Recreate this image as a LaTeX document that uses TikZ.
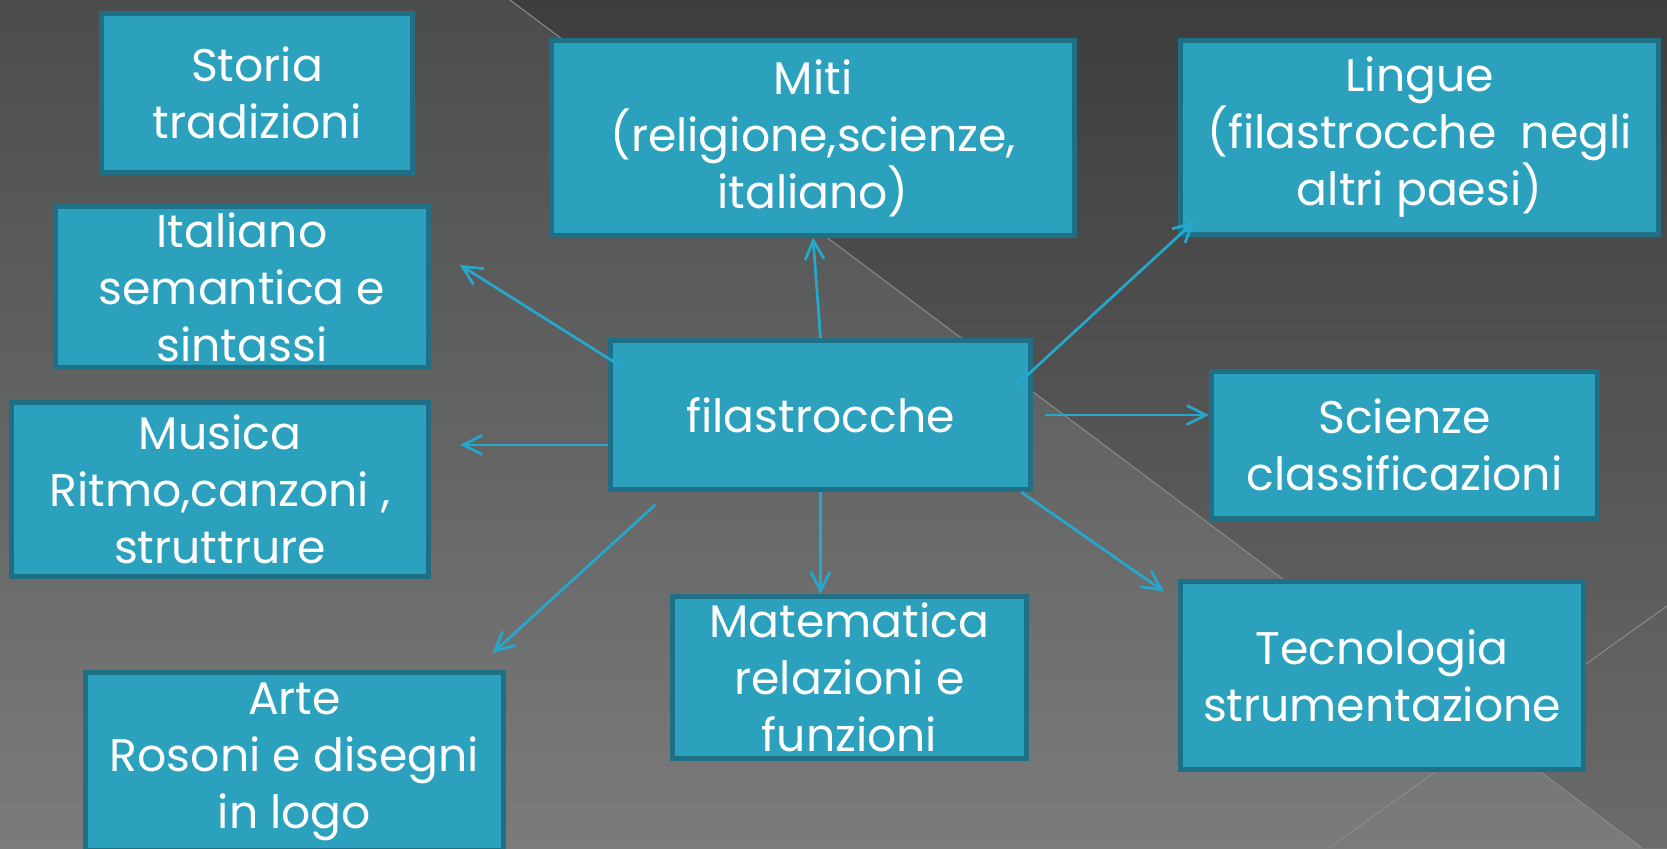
\documentclass[tikz,border=0pt]{standalone}
\usepackage{fontspec}
\setmainfont{Poppins}
\usepackage{tikz}
\usetikzlibrary{arrows.meta, positioning, calc}

\definecolor{boxfill}{RGB}{44,161,190}
\definecolor{boxline}{RGB}{31,112,134}
\definecolor{arrowblue}{RGB}{36,168,206}
\definecolor{bgtop}{RGB}{75,76,76}
\definecolor{bgbottom}{RGB}{123,123,123}
\definecolor{darktop}{RGB}{61,61,61}
\definecolor{darkbottom}{RGB}{107,107,107}
\definecolor{bgline}{RGB}{140,140,140}

\begin{document}
\begin{tikzpicture}[
    x=0.01cm, y=-0.01cm,
    % GLOBAL CFG
    font=\fontsize{13}{16.2}\selectfont,
    >={Straight Barb[length=1.9mm,width=1.9mm]},
    % Styles
    topic/.style={% For the subject boxes
        rectangle,
        draw=boxline,
        fill=boxfill,
        line width=0.5mm,
        text=white,
        align=center,
        inner sep=0pt,
        },
    ArrowA/.style={% Arrows going out of the centre box
        ->,
        draw=arrowblue,
        line width=0.27mm,
        },
    ]

    % Fix the page and paint the background
    \useasboundingbox (0,0) rectangle (1667,848);
    \clip (0,0) rectangle (1667,848);
    \shade [top color=bgtop, bottom color=bgbottom] (0,0) rectangle (1667,848);
    \shade [top color=darktop, bottom color=darkbottom]
        (510,0) -- (1667,0) -- (1667,848) -- (1642,848) -- cycle;
    \draw [bgline, line width=0.1mm] (510,0) -- (1642,848);
    \draw [bgline, line width=0.1mm] (1329,848) -- (1667,606);

    % Draw the centre box
    \node [topic, minimum width=4.20cm, minimum height=1.49cm] (fil) at (820.5,415) {filastrocche};

    % Draw the subjects, left column
    \node [topic, minimum width=3.11cm, minimum height=1.59cm] (storia) at (257,93) {Storia\\tradizioni};
    \node [topic, minimum width=3.73cm, minimum height=1.61cm] (ital) at (242,287) {Italiano\\semantica e\\sintassi};
    \node [topic, minimum width=4.17cm, minimum height=1.74cm] (musica) at (220,489.5) {Musica\\Ritmo,canzoni ,\\struttrure};
    \node [topic, minimum width=4.18cm, minimum height=1.78cm] (arte) at (294.5,761.5) {Arte\\Rosoni e disegni\\in logo};

    % Draw the subjects, middle and right
    \node [topic, minimum width=5.23cm, minimum height=1.94cm] (miti) at (813,138) {Miti\\(religione,scienze,\\italiano)};
    \node [topic, minimum width=3.54cm, minimum height=1.62cm] (mate) at (849.5,677.5) {Matematica\\relazioni e\\funzioni};
    \node [topic, minimum width=4.78cm, minimum height=1.93cm] (lingue) at (1419.5,137.5) {Lingue\\(filastrocche\ \ negli\\altri paesi)};
    \node [topic, minimum width=3.86cm, minimum height=1.47cm] (scienze) at (1404.5,445) {Scienze\\classificazioni};
    \node [topic, minimum width=4.03cm, minimum height=1.88cm] (tecno) at (1382,675.5) {Tecnologia\\strumentazione};

    % Drawing arrows
    \draw [ArrowA, shorten <=-2mm, shorten >=3.4mm] (fil.165) -- (ital.12);
    \draw [ArrowA, shorten >=2.9mm] (fil.188) -- (fil.188 -| musica.east);
    \draw [ArrowA, shorten <=1.9mm, shorten >=2.5mm] (fil.207) -- (arte.27);
    \draw [ArrowA] (fil.south) -- (fil.south |- mate.north);
    \draw [ArrowA, shorten >=1.7mm] (fil.-21) -- (tecno.160);
    \draw [ArrowA, shorten <=1.2mm] (fil.east) -- (fil.east -| scienze.west);
    \draw [ArrowA, shorten <=-2.4mm, shorten >=-2.3mm] (fil.12) -- (lingue.south west);
    \draw [ArrowA] (fil.north) -- (miti.south);
  \end{tikzpicture}
\end{document}
